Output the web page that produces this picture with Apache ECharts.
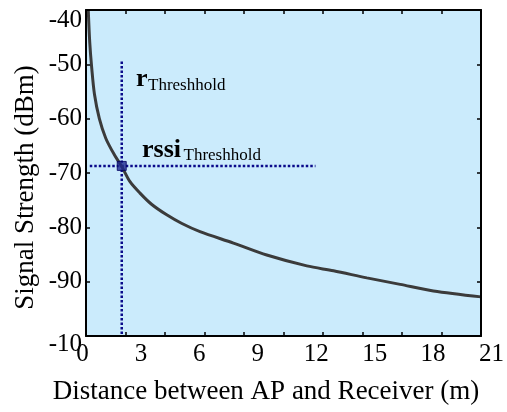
<!DOCTYPE html>
<html><head><meta charset="utf-8">
<script src="https://cdn.jsdelivr.net/npm/echarts@6/dist/echarts.min.js"></script>
<style>html,body{margin:0;padding:0;background:#fff}#c{width:507px;height:412px}</style>
</head><body><div id="c"></div>
<script>
// Data
const curveX = [0.12, 0.2, 0.3, 0.45, 0.71, 1.05, 1.5, 1.9, 2.34, 2.87, 3.5, 4.29, 5.1, 6.06, 7.84, 9.61, 11.74, 13.16, 14.93, 16.7, 18.47, 21];
const curveY = [-40, -46, -50.5, -55.5, -60, -63.6, -66.6, -68.8, -71.6, -73.7, -75.8, -77.7, -79.3, -80.8, -82.9, -85.1, -87.1, -88.0, -89.3, -90.5, -91.7, -92.8];
const rThreshold = 1.9;
const rssiThreshold = -68.7;
const vLineY = [-49.5, -100];
const hLineX = [0.2, 12.2];
const xTickLabels = ['0','3','6','9','12','15','18','21'];
const yTickValues = [-100, -90, -80, -70, -60, -50, -40];
const yTickLabels = ['-10', '-90', '-80', '-70', '-60', '-50', '-40'];

const FONT = '"Liberation Serif", "Times New Roman", serif';
const chart = echarts.init(document.getElementById('c'), null, {renderer: 'canvas'});
const curve = curveX.map((x, i) => [x, curveY[i]]);
const tickStyle = {show: true, inside: true, length: 4, lineStyle: {color: '#000', width: 1.5}};
const lineStyle = {show: true, onZero: false, lineStyle: {color: '#000', width: 2}};

chart.setOption({
  animation: false,
  grid: [
    {left: 86, right: 26, top: 10, bottom: 76, show: true, backgroundColor: '#cbebfc', borderWidth: 0, z: -1},
    {left: 82.5, right: 13, top: 10, bottom: 76, show: false}
  ],
  xAxis: [
    {gridIndex: 0, type: 'value', min: 0, max: 21, interval: 2.1, position: 'bottom', z: 5,
     axisLine: lineStyle, axisTick: tickStyle, axisLabel: {show: false}, splitLine: {show: false}},
    {gridIndex: 0, type: 'value', min: 0, max: 21, interval: 2.1, position: 'top', z: 5,
     axisLine: lineStyle, axisTick: tickStyle, axisLabel: {show: false}, splitLine: {show: false}},
    {gridIndex: 1, type: 'value', min: 0, max: 21, interval: 3, position: 'bottom',
     axisLine: {show: false}, axisTick: {show: false}, splitLine: {show: false},
     axisLabel: {show: true, margin: 6, color: '#000', fontSize: 25, fontFamily: FONT,
       formatter: v => xTickLabels[Math.round(v / 3)] || ''}}
  ],
  yAxis: [
    {gridIndex: 0, type: 'value', min: -100, max: -40, interval: 10, position: 'left', z: 5,
     axisLine: lineStyle, axisTick: tickStyle, splitLine: {show: false},
     axisLabel: {show: true, margin: 4, color: '#000', fontSize: 25, fontFamily: FONT,
       formatter: v => {
         const i = yTickValues.indexOf(Math.round(v));
         const t = i >= 0 ? yTickLabels[i] : '';
         if (Math.round(v) === -40) return '{top|' + t + '}';
         if (Math.round(v) === -100) return '{bot|' + t + '}';
         return t;
       },
       rich: {
         top: {fontSize: 25, fontFamily: FONT, color: '#000', padding: [21, 0, 0, 0]},
         bot: {fontSize: 25, fontFamily: FONT, color: '#000', padding: [16, 0, 0, 0]}
       }}},
    {gridIndex: 0, type: 'value', min: -100, max: -40, interval: 10, position: 'right', z: 5,
     axisLine: lineStyle, axisTick: tickStyle, axisLabel: {show: false}, splitLine: {show: false}},
    {gridIndex: 1, type: 'value', min: -100, max: -40, show: false}
  ],
  series: [
    {type: 'line', xAxisIndex: 0, yAxisIndex: 0, data: curve, smooth: 0.3,
     showSymbol: false, lineStyle: {color: '#3b3b3b', width: 3}, z: 3},
    {type: 'line', xAxisIndex: 0, yAxisIndex: 0, data: [[rThreshold, vLineY[0]], [rThreshold, vLineY[1]]],
     showSymbol: false, lineStyle: {color: '#0a0a8a', width: 2.5, type: [2.5, 2]}, z: 2},
    {type: 'line', xAxisIndex: 0, yAxisIndex: 0, data: [[hLineX[0], rssiThreshold], [hLineX[1], rssiThreshold]],
     showSymbol: false, lineStyle: {color: '#0a0a8a', width: 2.5, type: [2.5, 2]}, z: 2},
    {type: 'scatter', xAxisIndex: 0, yAxisIndex: 0, data: [[rThreshold, rssiThreshold]],
     symbol: 'rect', symbolSize: 9, itemStyle: {color: '#1f2a8f', borderColor: '#000060', borderWidth: 1}, z: 4}
  ],
  graphic: [
    {type: 'text', left: 136, top: 66, z: 10, style: {text: 'r', font: 'bold 26px "Liberation Serif"', fill: '#000'}},
    {type: 'text', left: 148, top: 77, z: 10, style: {text: 'Threshhold', font: '17px "Liberation Serif"', fill: '#000'}},
    {type: 'text', left: 142, top: 137, z: 10, style: {text: 'rssi', font: 'bold 26px "Liberation Serif"', fill: '#000'}},
    {type: 'text', left: 183.5, top: 147, z: 10, style: {text: 'Threshhold', font: '17px "Liberation Serif"', fill: '#000'}},
    {type: 'text', z: 10, x: 266, y: 392, style: {text: 'Distance between AP and Receiver (m)', font: '27px "Liberation Serif"', fill: '#000', align: 'center', verticalAlign: 'middle'}},
    {type: 'text', z: 10, x: 26, y: 187.5, rotation: Math.PI / 2, style: {text: 'Signal Strength (dBm)', font: '27px "Liberation Serif"', fill: '#000', align: 'center', verticalAlign: 'middle'}}
  ]
});
</script>
</body></html>
